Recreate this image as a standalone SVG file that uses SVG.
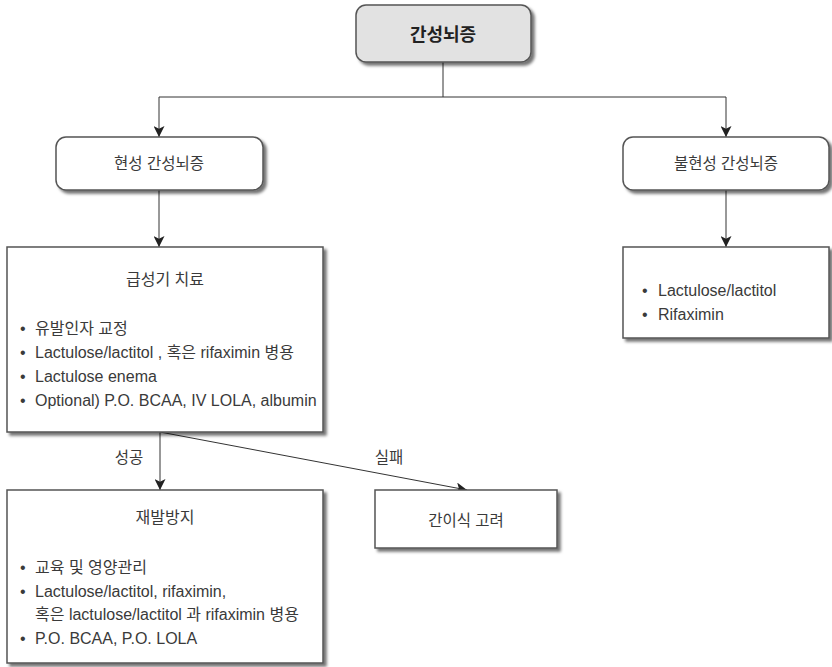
<svg xmlns="http://www.w3.org/2000/svg" width="832" height="667" viewBox="0 0 832 667">
<style>
  text { font-family: "Liberation Sans", "Noto Sans CJK KR", sans-serif; fill: #3a3a3a; font-size: 16px; }
  .t { text-anchor: middle; }
  .n { font-size: 15.5px; }
  .b { font-weight: bold; font-size: 18px; fill: #222; }
  .box { fill: #fff; stroke: #555; stroke-width: 1.5; filter: url(#sh); }
  .top { fill: #e2e2e2; stroke: #555; stroke-width: 1.5; filter: url(#sh); }
  .ln { fill: none; stroke: #333; stroke-width: 1; }
  .ar { marker-end: url(#ah); }
</style>
<defs>
  <filter id="sh" x="-10%" y="-10%" width="130%" height="140%">
    <feDropShadow dx="3" dy="3" stdDeviation="1.5" flood-color="#000" flood-opacity="0.55"/>
  </filter>
  <marker id="ah" viewBox="0 0 10 10" refX="10" refY="5" markerWidth="11" markerHeight="11" markerUnits="userSpaceOnUse" orient="auto">
    <path d="M0,0 L10,5 L0,10 L2.5,5 z" fill="#222"/>
  </marker>
</defs>

<g id="connectors">
  <path class="ln" d="M443,62 V97"/>
  <path class="ln" d="M159,97 H726"/>
  <path class="ln ar" d="M159,97 V137"/>
  <path class="ln ar" d="M726,97 V137"/>
  <path class="ln ar" d="M159,190 V247"/>
  <path class="ln ar" d="M726,190 V247"/>
  <path class="ln ar" d="M160,432 V490"/>
  <path class="ln ar" d="M160,432 L467,490"/>
  <text x="129" y="463" class="t n">성공</text>
  <text x="389" y="463" class="t n">실패</text>
</g>

<g id="root">
  <rect class="top" x="356" y="5" width="175" height="57" rx="10"/>
  <text x="443" y="41" class="t b">간성뇌증</text>
</g>

<g id="overt">
  <rect class="box" x="56" y="137" width="207" height="53" rx="10"/>
  <text x="159" y="169" class="t n">현성 간성뇌증</text>
</g>

<g id="covert">
  <rect class="box" x="623" y="137" width="206" height="53" rx="10"/>
  <text x="726" y="169" class="t n">불현성 간성뇌증</text>
</g>

<g id="acute">
  <rect class="box" x="7" y="247" width="316" height="185"/>
  <text x="165" y="285" class="t">급성기 치료</text>
  <text x="20" y="334">•</text><text x="35" y="334">유발인자 교정</text>
  <text x="20" y="358">•</text><text x="35" y="358">Lactulose/lactitol , 혹은 rifaximin 병용</text>
  <text x="20" y="382">•</text><text x="35" y="382">Lactulose enema</text>
  <text x="20" y="406">•</text><text x="35" y="406">Optional) P.O. BCAA, IV LOLA, albumin</text>
</g>

<g id="covert-tx">
  <rect class="box" x="623" y="247" width="206" height="91"/>
  <text x="642" y="296">•</text><text x="658" y="296">Lactulose/lactitol</text>
  <text x="642" y="320">•</text><text x="658" y="320">Rifaximin</text>
</g>

<g id="prevent">
  <rect class="box" x="7" y="490" width="316" height="173"/>
  <text x="165" y="523" class="t">재발방지</text>
  <text x="20" y="573">•</text><text x="35" y="573">교육 및 영양관리</text>
  <text x="20" y="597">•</text><text x="35" y="597">Lactulose/lactitol, rifaximin,</text>
  <text x="35" y="620">혹은 lactulose/lactitol 과 rifaximin 병용</text>
  <text x="20" y="644">•</text><text x="35" y="644">P.O. BCAA, P.O. LOLA</text>
</g>

<g id="transplant">
  <rect class="box" x="375" y="490" width="182" height="58"/>
  <text x="466" y="526" class="t n">간이식 고려</text>
</g>
</svg>
